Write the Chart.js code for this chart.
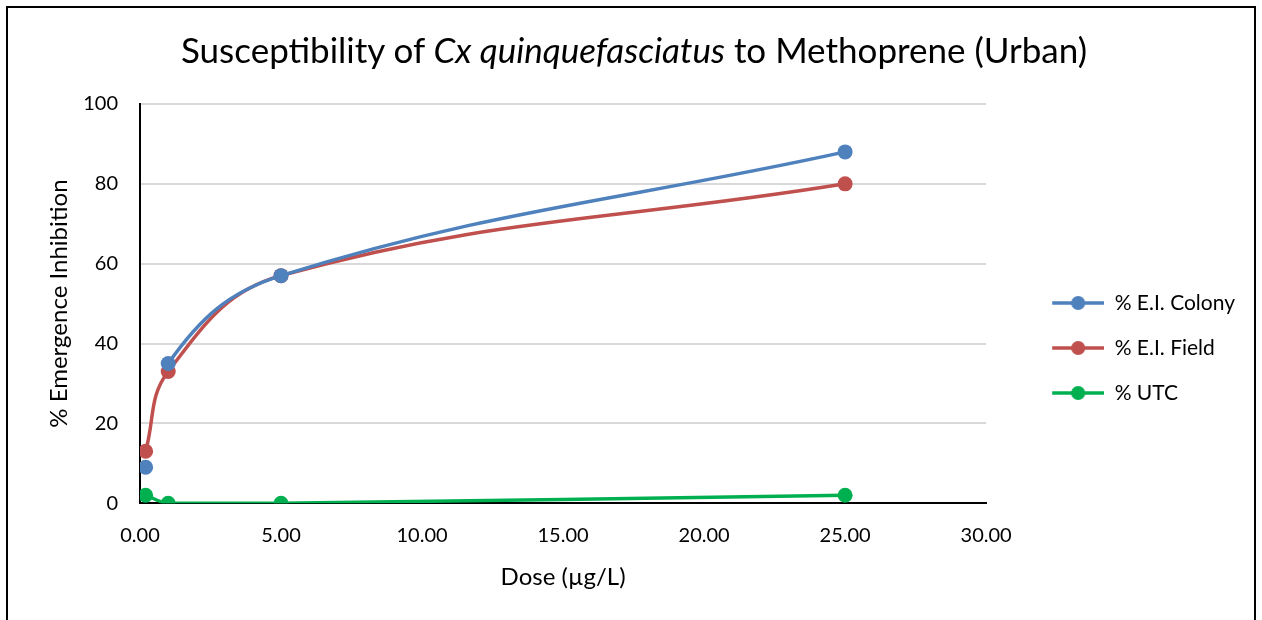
<!DOCTYPE html>
<html>
<head>
<meta charset="utf-8">
<script src="https://cdn.jsdelivr.net/npm/chart.js@4"></script>
<style>
    body { margin: 0; background: #fff; overflow: hidden; }
    #quadro {
        position: absolute; left: 6px; top: 6px;
        width: 1250px; height: 700px;
        border: 2px solid #000; box-sizing: border-box;
    }
    #titulo {
        position: absolute; left: 0; right: 0; top: 21px;
        text-align: center; padding-left: 6px;
        font-family: Lato, sans-serif; font-size: 35px; line-height: 41px; color: #000;
    }
    #grafico { position: absolute; left: 0; top: 0; }
</style>
</head>
<body>
<div id="quadro">
    <canvas id="grafico" width="1246" height="696"></canvas>
    <div id="titulo">Susceptibility of <i>Cx quinquefasciatus</i> to Methoprene (Urban)</div>
</div>
<script>
// dose em µg/L
const doses = [0.2, 1, 5, 25];
const eiColonia = [9, 35, 57, 88];
const eiCampo = [13, 33, 57, 80];
const utc = [2, 0, 0, 2];
const nomesSeries = ['% E.I. Colony', '% E.I. Field', '% UTC'];
const coresSeries = ['#4F81BD', '#C0504D', '#00B050'];

const fonte = 'Lato, sans-serif';

function pontos(valores) {
    return doses.map((d, i) => ({ x: d, y: valores[i] }));
}

// simbolo da legenda: linha com bolinha no meio (com folga a esquerda)
const folgaLegenda = 42;
const larguraSimbolo = 52;
function simboloLegenda(cor) {
    const c = document.createElement('canvas');
    c.width = folgaLegenda + larguraSimbolo;
    c.height = 16;
    const g = c.getContext('2d');
    g.strokeStyle = cor;
    g.lineWidth = 3.5;
    g.beginPath();
    g.moveTo(folgaLegenda, 8);
    g.lineTo(folgaLegenda + larguraSimbolo, 8);
    g.stroke();
    g.fillStyle = cor;
    g.beginPath();
    g.arc(folgaLegenda + larguraSimbolo / 2, 8, 7, 0, Math.PI * 2);
    g.fill();
    return c;
}

function serie(i, valores) {
    return {
        label: nomesSeries[i],
        data: pontos(valores),
        borderColor: coresSeries[i],
        backgroundColor: coresSeries[i],
        borderWidth: 3.5,
        pointRadius: 7.5,
        pointHoverRadius: 7.5,
        pointBorderWidth: 0,
        showLine: true,
        tension: 0.4
    };
}

const colonia = serie(0, eiColonia);
// a linha da colonia nao chega ao primeiro ponto
colonia.segment = {
    borderColor: ctx => ctx.p0DataIndex === 0 ? 'rgba(0,0,0,0)' : coresSeries[0]
};

const grafico = new Chart(document.getElementById('grafico').getContext('2d'), {
    type: 'scatter',
    data: {
        datasets: [colonia, serie(1, eiCampo), serie(2, utc)]
    },
    options: {
        responsive: false,
        animation: false,
        layout: { padding: { top: 96, left: 0, right: 9, bottom: 112 } },
        scales: {
            x: {
                type: 'linear',
                min: 0,
                max: 30,
                ticks: {
                    stepSize: 5,
                    padding: 20,
                    color: '#000',
                    font: { family: fonte, size: 20 },
                    callback: v => v.toFixed(2)
                },
                grid: { display: false, drawTicks: false },
                border: { color: '#000', width: 2 },
                title: {
                    display: true,
                    text: 'Dose (µg/L)',
                    color: '#000',
                    font: { family: fonte, size: 24 },
                    padding: { top: -4, bottom: 0 }
                }
            },
            y: {
                min: 0,
                max: 100,
                ticks: {
                    stepSize: 20,
                    padding: 22,
                    color: '#000',
                    font: { family: fonte, size: 20 }
                },
                grid: { color: '#d9d9d9', lineWidth: 2, drawTicks: false },
                border: { color: '#000', width: 2 },
                title: {
                    display: true,
                    text: '% Emergence Inhibition',
                    color: '#000',
                    font: { family: fonte, size: 24 },
                    padding: { top: 37, bottom: 0 }
                },
                afterFit: escala => { escala.width = 132; }
            }
        },
        plugins: {
            legend: {
                position: 'right',
                labels: {
                    usePointStyle: true,
                    pointStyleWidth: folgaLegenda + larguraSimbolo,
                    padding: 24,
                    color: '#000',
                    font: { family: fonte, size: 21 },
                    generateLabels: chart => chart.data.datasets.map((ds, i) => ({
                        text: ds.label,
                        pointStyle: simboloLegenda(coresSeries[i]),
                        fontColor: '#000',
                        lineWidth: 0,
                        strokeStyle: 'rgba(0,0,0,0)',
                        fillStyle: coresSeries[i],
                        datasetIndex: i
                    }))
                }
            },
            tooltip: { enabled: false }
        }
    }
});
</script>
</body>
</html>
